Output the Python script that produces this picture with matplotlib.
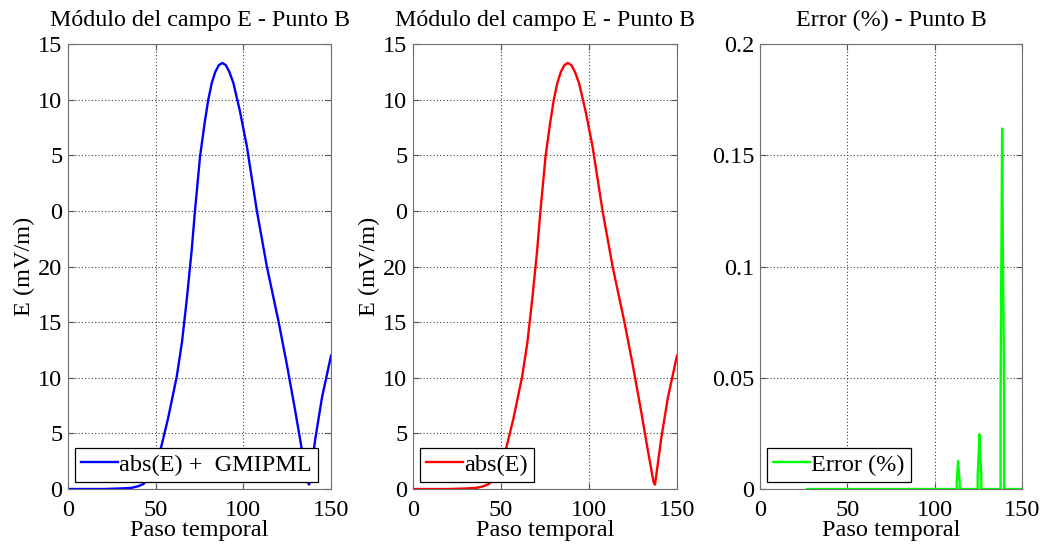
#!/usr/bin/env python3
"""
Modulo del campo E y error relativo en el punto B.

Usage:
    python plot.py
"""
import matplotlib
matplotlib.use("Agg")
import matplotlib.pyplot as plt

# Paso temporal / |E| (escala real 0..40, etiquetas como en la figura original)
paso = [0, 10, 20, 30, 36, 40, 43, 48, 53, 57, 62, 65, 67.7, 70.5, 72.4, 75.3,
        78, 80, 82, 84, 86, 88, 90, 92, 94.3, 98, 102, 107.7, 113.4, 120,
        124.8, 129.6, 133.4, 136.7, 137.5, 141, 144.8, 150]
campo_e = [0, 0, 0, 0.05, 0.1, 0.25, 0.45, 1.3, 3.7, 6.3, 10.1, 13.2, 17.0,
           21.4, 25.0, 29.9, 33.0, 35.0, 36.5, 37.5, 38.1, 38.3, 38.1, 37.5,
           36.5, 34.0, 30.8, 25.0, 20.0, 15.1, 11.2, 7.0, 3.5, 0.6, 0.4, 4.5,
           8.2, 12.0]

# Error (%) - solo los picos, el resto es cero
paso_error = [27, 112.6, 112.6, 113.1, 113.4, 113.7, 114.3, 114.3,
              124.6, 124.6, 125.3, 125.6, 125.9, 126.7, 126.7,
              137.7, 137.7, 138.3, 138.6, 138.9, 139.8, 139.8, 150]
error_pct = [0, 0, 0.003, 0.009, 0.0126, 0.009, 0.003, 0,
             0, 0.006, 0.0176, 0.0246, 0.0176, 0.006, 0,
             0, 0.040, 0.1215, 0.162, 0.1215, 0.040, 0, 0]

e_ticks = [0, 5, 10, 15, 20, 25, 30, 35, 40]
e_tick_labels = ["0", "5", "10", "15", "20", "0", "5", "10", "15"]
x_ticks = [0, 50, 100, 150]
err_ticks = [0, 0.05, 0.1, 0.15, 0.2]
err_tick_labels = ["0", "0.05", "0.1", "0.15", "0.2"]

plt.rcParams["font.family"] = ["Liberation Serif", "DejaVu Serif"]
plt.rcParams["font.size"] = 17.5


def style_axes(ax):
    ax.grid(True, linestyle=(0, (1, 2)), color="#404040", linewidth=0.8)
    ax.tick_params(direction="in", top=True, right=True, length=4,
                   color="#555555", pad=4)
    ax.tick_params(axis="x", pad=8)
    for s in ax.spines.values():
        s.set_color("#707070")
    ax.set_xlim(0, 150)
    ax.set_xticks(x_ticks)
    ax.set_xlabel("Paso temporal", labelpad=-1)


def legend(ax):
    leg = ax.legend(loc="lower left", fancybox=False, edgecolor="black",
                    framealpha=1, borderpad=0.25, handlelength=1.5,
                    handletextpad=0.05, borderaxespad=0.3)
    leg.get_frame().set_linewidth(0.9)


fig = plt.figure(figsize=(10.43, 5.47), dpi=100)
ax1 = fig.add_axes([0.0652, 0.106, 0.2522, 0.8135])
ax2 = fig.add_axes([0.396, 0.106, 0.2531, 0.8135])
ax3 = fig.add_axes([0.7287, 0.106, 0.2512, 0.8135])

for ax, color, label in [(ax1, "#0000ff", "abs(E) +  GMIPML"),
                         (ax2, "#ff0000", "abs(E)")]:
    ax.plot(paso, campo_e, color=color, linewidth=1.7, label=label)
    style_axes(ax)
    ax.set_ylim(0, 40)
    ax.set_yticks(e_ticks)
    ax.set_yticklabels(e_tick_labels)
    ax.set_ylabel("E (mV/m)", labelpad=2)
    ax.set_title("Módulo del campo E - Punto B", fontsize=17.3, pad=13)
    legend(ax)

ax3.plot(paso_error, error_pct, color="#00ff00", linewidth=1.7, label="Error (%)")
style_axes(ax3)
ax3.set_ylim(0, 0.2)
ax3.set_yticks(err_ticks)
ax3.set_yticklabels(err_tick_labels)
ax3.set_title("Error (%) - Punto B", fontsize=17.3, pad=13)
legend(ax3)

fig.savefig("out.png", dpi=100, facecolor="white")
